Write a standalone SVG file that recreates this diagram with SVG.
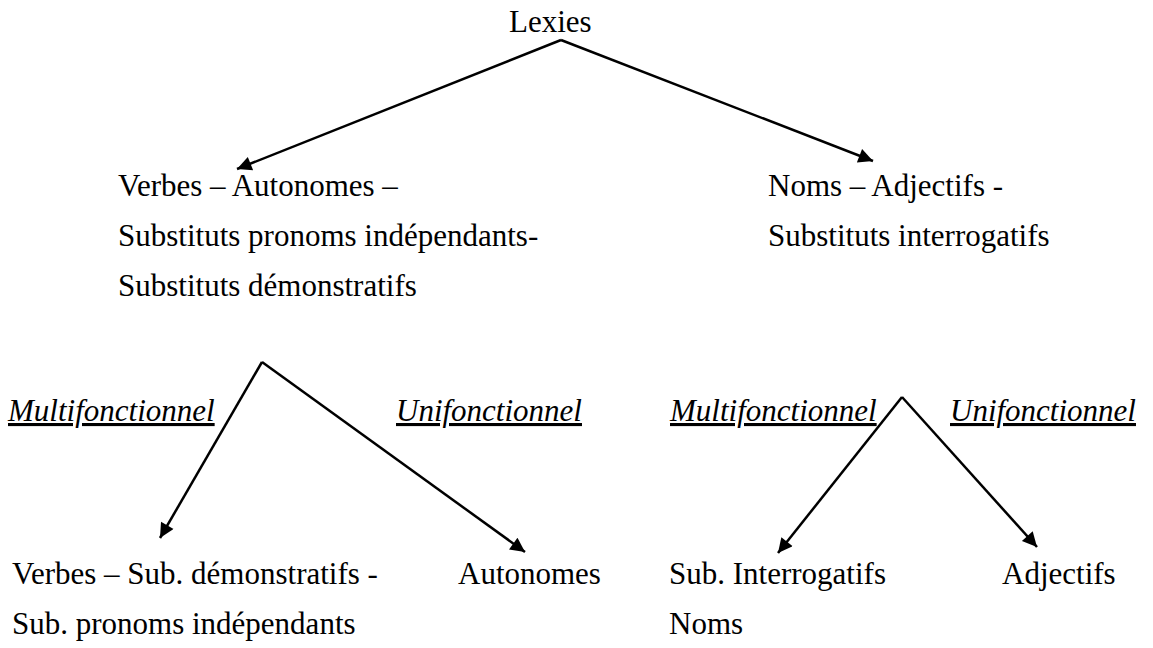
<svg xmlns="http://www.w3.org/2000/svg" width="1153" height="648" viewBox="0 0 1153 648">
<style>
text{font-family:"Liberation Serif","Times New Roman",serif;font-size:31px;fill:#000}
.it{font-style:italic;text-decoration:underline}
.c{stroke:#000;stroke-width:2.5;fill:none}
</style>
<defs>
<marker id="ah" viewBox="0 0 10 10" refX="10" refY="5" markerWidth="7.2" markerHeight="5.8" markerUnits="strokeWidth" orient="auto">
<path d="M0,0 L10,5 L0,10 z" fill="#000"/>
</marker>
</defs>
<rect width="1153" height="648" fill="#fff"/>
<g id="connectors">
<path class="c" d="M561,40 L237,169" marker-end="url(#ah)"/>
<path class="c" d="M561,40 L873,161" marker-end="url(#ah)"/>
<path class="c" d="M262,362 L160,538" marker-end="url(#ah)"/>
<path class="c" d="M262,362 L525,552" marker-end="url(#ah)"/>
<path class="c" d="M902,397 L778,553" marker-end="url(#ah)"/>
<path class="c" d="M902,397 L1037,547" marker-end="url(#ah)"/>
</g>
<g id="lexies"><text x="509" y="32">Lexies</text></g>
<g id="left1">
<text x="118" y="196">Verbes – Autonomes –</text>
<text x="118" y="246">Substituts pronoms indépendants-</text>
<text x="118" y="296">Substituts démonstratifs</text>
</g>
<g id="right1">
<text x="768" y="196">Noms – Adjectifs -</text>
<text x="768" y="246">Substituts interrogatifs</text>
</g>
<g id="labels">
<text class="it" x="8" y="421">Multifonctionnel</text>
<text class="it" x="396" y="421">Unifonctionnel</text>
<text class="it" x="670" y="421">Multifonctionnel</text>
<text class="it" x="950" y="421">Unifonctionnel</text>
</g>
<g id="left2a">
<text x="12" y="584">Verbes – Sub. démonstratifs -</text>
<text x="12" y="634">Sub. pronoms indépendants</text>
</g>
<g id="left2b"><text x="458" y="584">Autonomes</text></g>
<g id="right2a">
<text x="669" y="584">Sub. Interrogatifs</text>
<text x="669" y="634">Noms</text>
</g>
<g id="right2b"><text x="1002" y="584">Adjectifs</text></g>
</svg>
